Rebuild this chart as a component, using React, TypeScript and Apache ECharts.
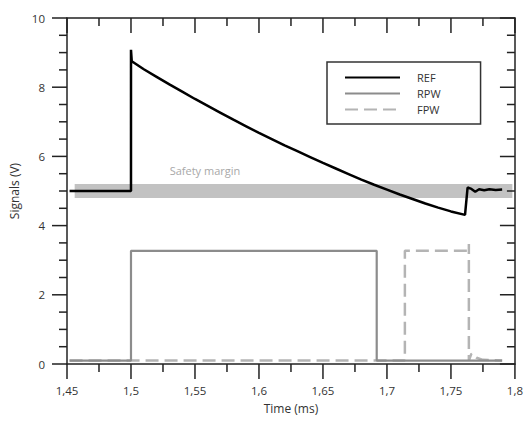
import React, { useEffect, useRef } from "react";
import * as echarts from "echarts";

const xTicks = { min: 1.45, max: 1.8, interval: 0.05 };
const yTicks = { min: 0, max: 10, interval: 2 };
const xMajorTicks = [1.45, 1.5, 1.55, 1.6, 1.65, 1.7, 1.75, 1.8];
const xMinorTicks = [1.475, 1.525, 1.575, 1.625, 1.675, 1.725, 1.775];
const yMajorTicks = [0, 2, 4, 6, 8, 10];
const yMinorTicks = [0.5, 1, 1.5, 2.5, 3, 3.5, 4.5, 5, 5.5, 6.5, 7, 7.5, 8.5, 9, 9.5];

const refTimes = [1.452, 1.5, 1.5, 1.5006, 1.51, 1.52, 1.53, 1.54, 1.55, 1.56, 1.57, 1.58, 1.59, 1.6, 1.61, 1.62, 1.63, 1.64, 1.65, 1.66, 1.67, 1.68, 1.69, 1.7, 1.71, 1.72, 1.73, 1.74, 1.75, 1.761, 1.763, 1.766, 1.769, 1.772, 1.776, 1.78, 1.785, 1.79];
const refValues = [5.0, 5.0, 9.08, 8.75, 8.52, 8.3, 8.08, 7.87, 7.66, 7.46, 7.26, 7.06, 6.87, 6.68, 6.5, 6.32, 6.15, 5.98, 5.81, 5.65, 5.49, 5.33, 5.18, 5.04, 4.9, 4.77, 4.64, 4.52, 4.41, 4.31, 5.1, 5.06, 4.98, 5.05, 5.02, 5.05, 5.03, 5.04];

const rpwTimes = [1.452, 1.5, 1.5, 1.692, 1.692, 1.79];
const rpwValues = [0.1, 0.1, 3.27, 3.27, 0.1, 0.1];

const fpwTimes = [1.452, 1.714, 1.714, 1.764, 1.764, 1.764, 1.766, 1.77, 1.775, 1.79];
const fpwValues = [0.1, 0.1, 3.27, 3.27, 3.47, 0.1, 0.3, 0.18, 0.12, 0.1];

const safetyRange = { x0: 1.456, x1: 1.798, y0: 4.8, y1: 5.2 };
const safetyLabel = "Safety margin";

const zip = (a: number[], b: number[]) => a.map((t, i) => [t, b[i]]);

const W = 526;
const H = 430;

export default function App() {
  const ref = useRef<HTMLDivElement>(null);
  useEffect(() => {
    const chart = echarts.init(ref.current!, undefined, { renderer: "svg" });
    const font = "Open Sans";
    const axisColor = "#222";
    const mkX = (pos: "top" | "bottom") => ({
      type: "value",
      position: pos,
      min: xTicks.min,
      max: xTicks.max,
      interval: xTicks.interval,
      splitLine: { show: false },
      axisLine: { show: true, onZero: false, lineStyle: { color: axisColor, width: 1.5 } },
      axisTick: { show: false },
    });
    const mkY = (pos: "left" | "right") => ({
      type: "value",
      position: pos,
      min: yTicks.min,
      max: yTicks.max,
      interval: yTicks.interval,
      splitLine: { show: false },
      axisLine: { show: true, onZero: false, lineStyle: { color: axisColor, width: 1.5 } },
      axisTick: { show: false },
    });
    chart.setOption({
      animation: false,
      backgroundColor: "#fff",
      textStyle: { fontFamily: font },
      grid: { left: 67, right: 10, top: 18, bottom: 66 },
      legend: {
        orient: "vertical",
        left: 327,
        top: 62,
        data: ["REF", "RPW", "FPW"],
        itemWidth: 55,
        itemHeight: 10,
        itemGap: 5,
        padding: [10, 40, 9, 17],
        borderColor: "#333",
        borderWidth: 1.5,
        borderRadius: 0,
        itemStyle: { opacity: 0 },
        textStyle: { color: "#333", fontSize: 11, fontFamily: font, padding: [0, 0, 0, 12] },
      },
      xAxis: [
        {
          ...mkX("bottom"),
          name: "Time (ms)",
          nameLocation: "middle",
          nameGap: 38,
          nameTextStyle: { color: "#333", fontSize: 12, fontFamily: font },
          axisLabel: {
            show: true,
            color: "#333",
            fontSize: 11.5,
            margin: 20,
            formatter: (v: number) => String(+v.toFixed(2)).replace(".", ","),
          },
        },
        { ...mkX("top"), axisLabel: { show: false } },
      ],
      yAxis: [
        {
          ...mkY("left"),
          name: "Signals (V)",
          nameLocation: "middle",
          nameGap: 45,
          nameTextStyle: { color: "#333", fontSize: 12, fontFamily: font },
          axisLabel: { show: true, color: "#333", fontSize: 11.5, margin: 22 },
        },
        { ...mkY("right"), axisLabel: { show: false } },
      ],
      series: [
        {
          type: "line",
          name: "safety",
          data: [],
          markArea: {
            silent: true,
            itemStyle: { color: "#c2c2c2" },
            label: {
              show: true,
              position: [95, -19],
              align: "left",
              color: "#a8a8a8",
              fontSize: 11,
              fontFamily: font,
            },
            data: [[
              { name: safetyLabel, coord: [safetyRange.x0, safetyRange.y1] },
              { coord: [safetyRange.x1, safetyRange.y0] },
            ]],
          },
        },
        {
          type: "line",
          name: "FPW",
          data: zip(fpwTimes, fpwValues),
          symbol: "none",
          lineStyle: { color: "#b4b4b4", width: 2.5, type: [13, 6] },
          itemStyle: { color: "#b4b4b4" },
        },
        {
          type: "line",
          name: "RPW",
          data: zip(rpwTimes, rpwValues),
          symbol: "none",
          lineStyle: { color: "#8c8c8c", width: 2.2 },
          itemStyle: { color: "#8c8c8c" },
        },
        {
          type: "line",
          name: "REF",
          data: zip(refTimes, refValues),
          symbol: "none",
          lineStyle: { color: "#000", width: 2.5 },
          itemStyle: { color: "#000" },
        },
      ],
    });

    // Axis ticks as thin rects, positioned through the chart's own scales.
    const finder = { xAxisIndex: 0, yAxisIndex: 0 };
    const px = (pt: number[]) => chart.convertToPixel(finder, pt) as number[];
    const majLen = 15;
    const minLen = 8;
    const tw = 1.5;
    const fill = { fill: axisColor };
    const rects: any[] = [];
    [...xMajorTicks, ...xMinorTicks].forEach((v) => {
      const len = xMajorTicks.includes(v) ? majLen : minLen;
      const b = px([v, yTicks.min]);
      const t = px([v, yTicks.max]);
      rects.push({ type: "rect", silent: true, z: 100, shape: { x: b[0] - tw / 2, y: b[1], width: tw, height: len }, style: fill });
      rects.push({ type: "rect", silent: true, z: 100, shape: { x: t[0] - tw / 2, y: t[1], width: tw, height: len }, style: fill });
    });
    [...yMajorTicks, ...yMinorTicks].forEach((v) => {
      const len = yMajorTicks.includes(v) ? majLen : minLen;
      const l = px([xTicks.min, v]);
      const r = px([xTicks.max, v]);
      rects.push({ type: "rect", silent: true, z: 100, shape: { x: l[0] - len, y: l[1] - tw / 2, width: len, height: tw }, style: fill });
      rects.push({ type: "rect", silent: true, z: 100, shape: { x: r[0] - len, y: r[1] - tw / 2, width: len, height: tw }, style: fill });
    });
    chart.setOption({ graphic: rects });

    return () => chart.dispose();
  }, []);
  return <div ref={ref} style={{ position: "fixed", left: 0, top: 0, width: W, height: H }} />;
}
